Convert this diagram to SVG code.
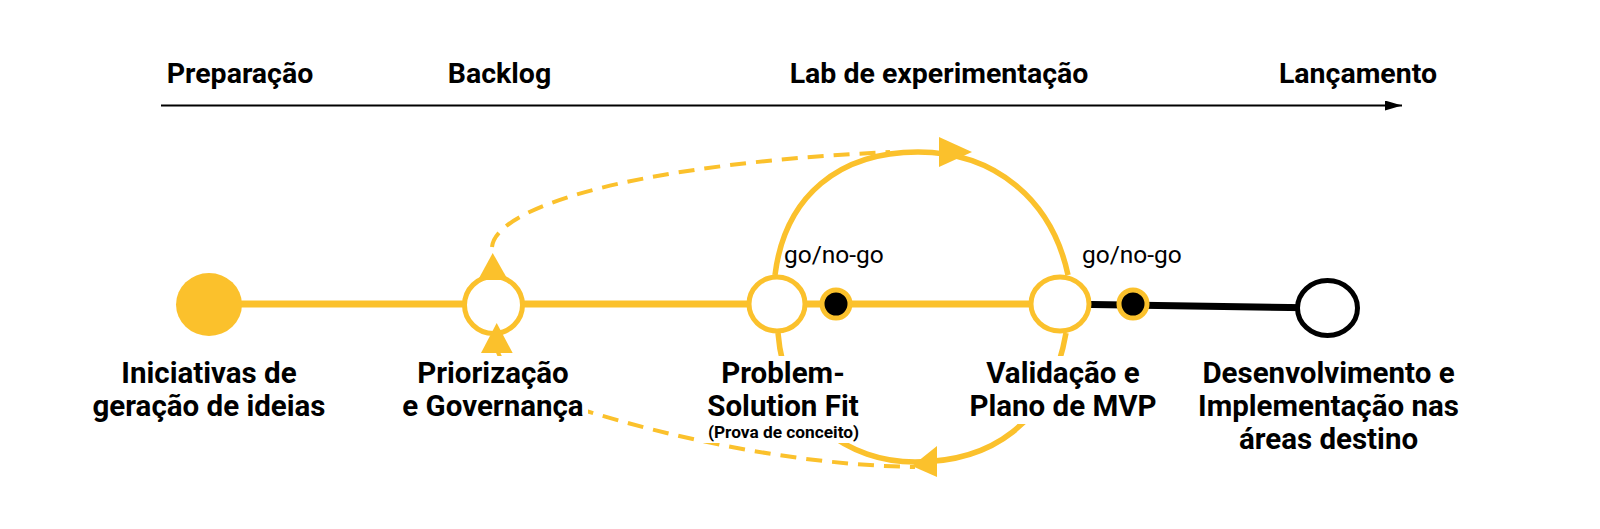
<svg xmlns="http://www.w3.org/2000/svg" width="1600" height="529" viewBox="0 0 1600 529">
<defs>
<style>
.hdr{font-family:Roboto,"Liberation Sans",sans-serif;font-weight:700;font-size:28.5px;fill:#000;text-anchor:middle}
.lbl{font-family:Roboto,"Liberation Sans",sans-serif;font-weight:700;font-size:29.5px;fill:#000;text-anchor:middle}
.sm{font-family:Roboto,"Liberation Sans",sans-serif;font-weight:700;font-size:17.3px;fill:#000;text-anchor:middle}
.gng{font-family:Roboto,"Liberation Sans",sans-serif;font-weight:400;font-size:24.5px;fill:#000}
.y{stroke:#FBC12C;fill:none;stroke-width:5.5}
.yd{stroke:#FBC12C;fill:none;stroke-width:4;stroke-dasharray:16 10}
.node{fill:#fff;stroke:#FBC12C;stroke-width:5}
.dot{fill:#000;stroke:#FBC12C;stroke-width:5}
.tri{fill:#FBC12C}
.bg{fill:#fff}
</style>
<marker id="ax" viewBox="0 0 17 10" refX="17" refY="5" markerWidth="17" markerHeight="10" markerUnits="userSpaceOnUse" orient="auto"><path d="M0 0 L17 5 L0 10 z" fill="#000"/></marker>
</defs>
<rect width="1600" height="529" fill="#fff"/>
<g id="headers">
<text class="hdr" x="240" y="83">Preparação</text>
<text class="hdr" x="499.5" y="83">Backlog</text>
<text class="hdr" x="939" y="83">Lab de experimentação</text>
<text class="hdr" x="1358" y="83">Lançamento</text>
</g>
<g id="connectors">
<line x1="161" y1="105.5" x2="1402" y2="105.5" stroke="#000" stroke-width="2" marker-end="url(#ax)"/>
<line x1="209" y1="304" x2="1060" y2="304" stroke="#FBC12C" stroke-width="7"/>
<line x1="1060" y1="304" x2="1327" y2="308" stroke="#000" stroke-width="7"/>
<path class="y" d="M775 275 C785 195 840 152 918 152 C995 152 1052 200 1068 275"/>
<path class="yd" d="M492 247 C495 210 620 165 890 152"/>
<path class="y" d="M778 333 C785 420 850 462 915 462 C990 462 1050 425 1066 333"/>
<path class="yd" d="M497 350 C510 385 545 400 583 410 C680 440 800 465 915 467"/>
<polygon class="tri" points="972,152 939,137 939,167"/>
<polygon class="tri" points="912,466 937,446 937,477"/>
</g>
<g id="n1"><ellipse cx="209" cy="304.5" rx="33" ry="31.5" fill="#FBC12C"/></g>
<g id="n2">
<ellipse class="node" cx="493.5" cy="305" rx="29" ry="28.5"/>
<polygon class="tri" points="492.7,253 478,280 508,280"/>
<polygon class="tri" points="496.7,323 481,353 512.7,353"/>
</g>
<g id="n3"><ellipse class="node" cx="777" cy="304" rx="28" ry="27"/></g>
<g id="d1"><circle class="dot" cx="836" cy="304" r="14"/></g>
<g id="n4"><ellipse class="node" cx="1060" cy="304" rx="29" ry="27"/></g>
<g id="d2"><circle class="dot" cx="1133" cy="304" r="14"/></g>
<g id="n5"><ellipse cx="1327.5" cy="308" rx="30" ry="27.5" fill="#fff" stroke="#000" stroke-width="5"/></g>
<g id="l1">
<text class="lbl" x="209" y="383">Iniciativas de</text>
<text class="lbl" x="209" y="416">geração de ideias</text>
</g>
<g id="l2">
<rect class="bg" x="400" y="356" width="188" height="70"/>
<text class="lbl" x="493" y="383">Priorização</text>
<text class="lbl" x="493" y="416">e Governança</text>
</g>
<g id="l3">
<rect class="bg" x="703" y="356" width="158" height="87"/>
<text class="lbl" x="783" y="383">Problem-</text>
<text class="lbl" x="783" y="416">Solution Fit</text>
<text class="sm" x="783.5" y="438">(Prova de conceito)</text>
</g>
<g id="l4">
<rect class="bg" x="968" y="356" width="190" height="68"/>
<text class="lbl" x="1063" y="383">Validação e</text>
<text class="lbl" x="1063" y="416">Plano de MVP</text>
</g>
<g id="l5">
<text class="lbl" x="1328.5" y="383">Desenvolvimento e</text>
<text class="lbl" x="1328.5" y="416">Implementação nas</text>
<text class="lbl" x="1328.5" y="449">áreas destino</text>
</g>
<g id="gng">
<text class="gng" x="784" y="263">go/no-go</text>
<text class="gng" x="1082" y="263">go/no-go</text>
</g>
</svg>
